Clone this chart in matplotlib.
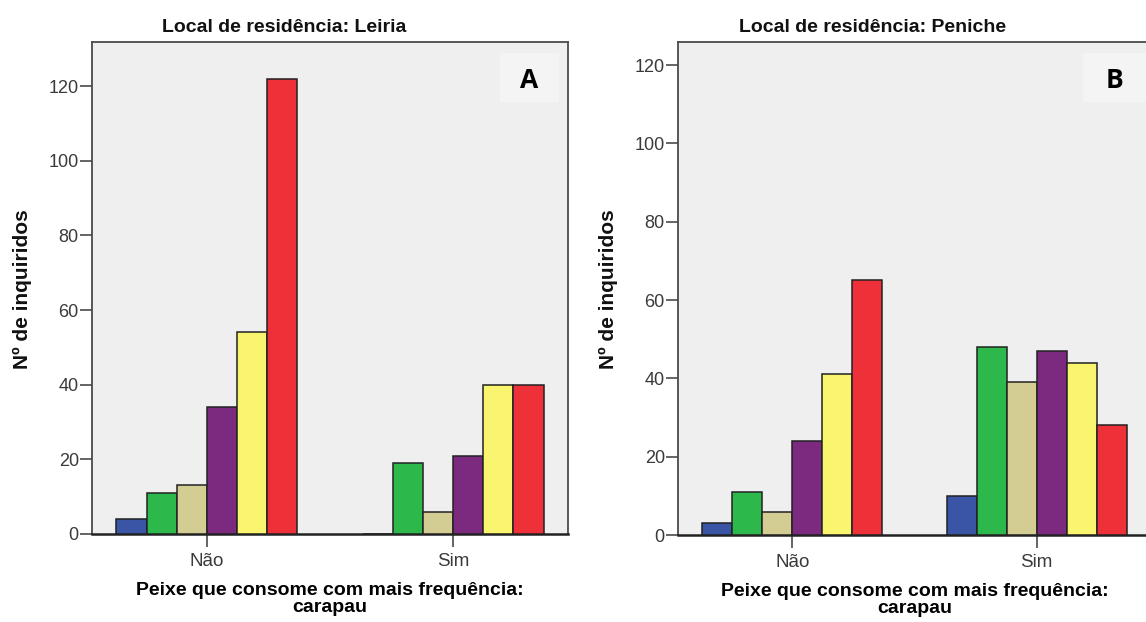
"""
Leiria vs Peniche: number of respondents by how often they eat fish,
split by whether carapau is the fish they eat most often.
"""
import matplotlib

matplotlib.use("Agg")
import matplotlib.pyplot as plt
import numpy as np
from matplotlib.patches import Rectangle

plt.rcParams["font.family"] = ["Liberation Sans", "DejaVu Sans"]

# ── Data ────────────────────────────────────────────────────────────────────
categories = ["Não", "Sim"]
series_colors = ["#3a55a6", "#2db84b", "#d3cd93", "#7b2a80", "#f9f56f", "#ee3139"]

leiria_nao = [4, 11, 13, 34, 54, 122]
leiria_sim = [0, 19, 6, 21, 40, 40]
peniche_nao = [3, 11, 6, 24, 41, 65]
peniche_sim = [10, 48, 39, 47, 44, 28]

panel_titles = ["Local de residência: Leiria", "Local de residência: Peniche"]
panel_letters = ["A", "B"]
y_ticks = [0, 20, 40, 60, 80, 100, 120]
y_label = "Nº de inquiridos"
x_label = "Peixe que consome com mais frequência:\ncarapau"

W, H = 1146, 622
BG = "#efefef"
SPINE = "#4a4a4a"
TICKCOL = "#3a3a3a"


def px(x0, y0, x1, y1):
    """pixel box (top-left origin) -> figure fraction rect"""
    return [x0 / W, 1 - y1 / H, (x1 - x0) / W, (y1 - y0) / H]


def draw_panel(ax, nao, sim, ymax):
    ax.set_facecolor(BG)
    x = np.arange(len(categories))
    n = len(nao)
    w = 0.1225
    for i in range(n):
        vals = [nao[i], sim[i]]
        ax.bar(x + (i - (n - 1) / 2) * w, vals, width=w, color=series_colors[i],
               edgecolor="#222222", linewidth=1.1, zorder=3)
    ax.set_xlim(-0.467, 1.467)
    ax.set_ylim(0, ymax)
    ax.set_yticks(y_ticks)
    ax.set_xticks(x)
    ax.set_xticklabels(categories)
    ax.tick_params(axis="y", direction="out", length=9, width=1.2, color=SPINE,
                   labelsize=13, labelcolor=TICKCOL, pad=0.5)
    ax.tick_params(axis="x", direction="out", length=9, width=1.2, color=SPINE,
                   labelsize=13.5, labelcolor=TICKCOL, pad=5)
    for s in ax.spines.values():
        s.set_color(SPINE)
        s.set_linewidth(1.3)
    ax.spines["bottom"].set_color("#222222")
    ax.spines["bottom"].set_linewidth(1.8)
    ax.set_xlabel(x_label, fontsize=14, fontweight="bold", linespacing=1.05,
                  labelpad=8)


fig = plt.figure(figsize=(W / 100, H / 100), dpi=100)

ax1 = fig.add_axes(px(92, 42, 568, 534))
draw_panel(ax1, leiria_nao, leiria_sim, 131.8)

ax2 = fig.add_axes(px(678, 42, 1151, 535))
draw_panel(ax2, peniche_nao, peniche_sim, 125.9)

# titles (offset left of axes centre, as in the original export)
for xc, t in [(284, panel_titles[0]), (873, panel_titles[1])]:
    fig.text(xc / W, 1 - 32 / H, t, ha="center", va="baseline",
             fontsize=14, fontweight="bold", color="#111111")

# y labels
for xc in [22, 608]:
    fig.text(xc / W, 1 - 289 / H, y_label, rotation=90, ha="center", va="center",
             fontsize=15, fontweight="bold", color="#111111")

# panel letters in a slightly lighter box
for (x0, x1, xc), letter in zip([(500, 559, 529), (1083, 1146, 1115)], panel_letters):
    fig.patches.append(Rectangle((x0 / W, 1 - 102 / H), (x1 - x0) / W, 49 / H,
                                 transform=fig.transFigure, facecolor="#f4f4f4",
                                 edgecolor="none", zorder=5))
    fig.text(xc / W, 1 - 80 / H, letter, ha="center", va="center",
             fontsize=19, fontweight="bold", family=["Open Sans", "DejaVu Sans"],
             color="#000000", zorder=6)

fig.savefig("out.png", dpi=100, facecolor="white")
